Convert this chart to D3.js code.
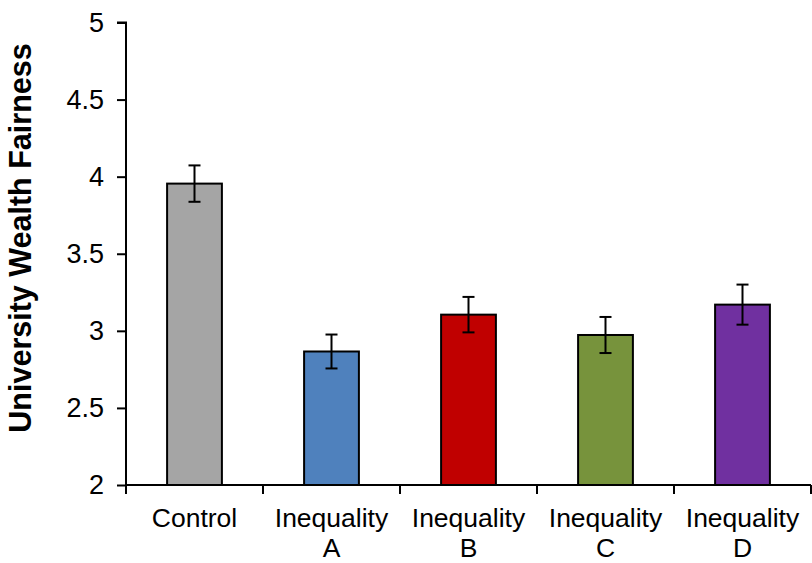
<!DOCTYPE html>
<html>
<head>
<meta charset="utf-8">
<script src="https://cdn.jsdelivr.net/npm/d3@7"></script>
<style>
  html, body { margin: 0; padding: 0; background: #fff; }
  svg { display: block; }
  text { font-family: "Liberation Sans", Arial, sans-serif; fill: #000; }
</style>
</head>
<body>
<svg id="chart" width="812" height="563"></svg>
<script>
const categories = ["Control", "Inequality A", "Inequality B", "Inequality C", "Inequality D"];
const labelLines = [["Control"], ["Inequality", "A"], ["Inequality", "B"], ["Inequality", "C"], ["Inequality", "D"]];
const means = [3.955, 2.866, 3.105, 2.973, 3.17];
const errors = [0.118, 0.11, 0.115, 0.117, 0.13];
const colors = ["#A5A5A5", "#4F81BD", "#C00000", "#77933C", "#7030A0"];
const yTicks = [2, 2.5, 3, 3.5, 4, 4.5, 5];
const yLabel = "University Wealth Fairness";

const svg = d3.select("#chart");
const plotLeft = 126, plotRight = 811, plotTop = 22.5, plotBottom = 485;

const x = d3.scaleBand().domain(categories).range([plotLeft, plotRight]).paddingInner(0.6).paddingOuter(0.3);
const y = d3.scaleLinear().domain([2, 5]).range([plotBottom, plotTop]);
const step = x.step();

// bars
svg.append("g").selectAll("rect").data(categories).join("rect")
  .attr("x", d => x(d))
  .attr("y", (d, i) => y(means[i]))
  .attr("width", x.bandwidth())
  .attr("height", (d, i) => y(2) - y(means[i]))
  .attr("fill", (d, i) => colors[i])
  .attr("stroke", "#000")
  .attr("stroke-width", 2);

// error bars
const eg = svg.append("g").attr("stroke", "#000").attr("stroke-width", 2);
categories.forEach((c, i) => {
  const cx = x(c) + x.bandwidth() / 2;
  const hi = y(means[i] + errors[i]), lo = y(means[i] - errors[i]);
  eg.append("line").attr("x1", cx).attr("x2", cx).attr("y1", hi).attr("y2", lo);
  eg.append("line").attr("x1", cx - 6).attr("x2", cx + 6).attr("y1", hi).attr("y2", hi);
  eg.append("line").attr("x1", cx - 6).attr("x2", cx + 6).attr("y1", lo).attr("y2", lo);
});

// y axis
const yAxis = d3.axisLeft(y).tickValues(yTicks).tickSize(9).tickPadding(13).tickFormat(d => String(d));
const yg = svg.append("g").attr("transform", `translate(${plotLeft},0)`).call(yAxis);
yg.select(".domain").attr("stroke", "#000").attr("stroke-width", 2).attr("d", `M-9,${y(5)}H0V${y(2)}`);
yg.selectAll(".tick line").attr("stroke", "#000").attr("stroke-width", 2);
yg.selectAll(".tick text").style("font-family", "'Liberation Sans', Arial, sans-serif").style("font-size", "27px").attr("fill", "#000");

// x axis
const boundaries = categories.map(c => x(c) + x.bandwidth() / 2 - step / 2).concat([x(categories[4]) + x.bandwidth() / 2 + step / 2]);
const xg = svg.append("g");
xg.append("line").attr("x1", plotLeft).attr("x2", plotRight).attr("y1", plotBottom).attr("y2", plotBottom).attr("stroke", "#000").attr("stroke-width", 2);
xg.selectAll("line.tk").data(boundaries).join("line").attr("class", "tk")
  .attr("x1", d => d).attr("x2", d => d).attr("y1", plotBottom).attr("y2", plotBottom + 9)
  .attr("stroke", "#000").attr("stroke-width", 2);
categories.forEach((c, i) => {
  const cx = x(c) + x.bandwidth() / 2;
  const t = xg.append("text").attr("text-anchor", "middle").style("font-size", "26.5px");
  labelLines[i].forEach((ln, j) => {
    t.append("tspan").attr("x", cx).attr("y", 527 + j * 30).text(ln);
  });
});

// y label
svg.append("text")
  .attr("transform", `translate(31,238) rotate(-90)`)
  .attr("text-anchor", "middle")
  .style("font-size", "30.5px").style("font-weight", "bold")
  .text(yLabel);
</script>
</body>
</html>
